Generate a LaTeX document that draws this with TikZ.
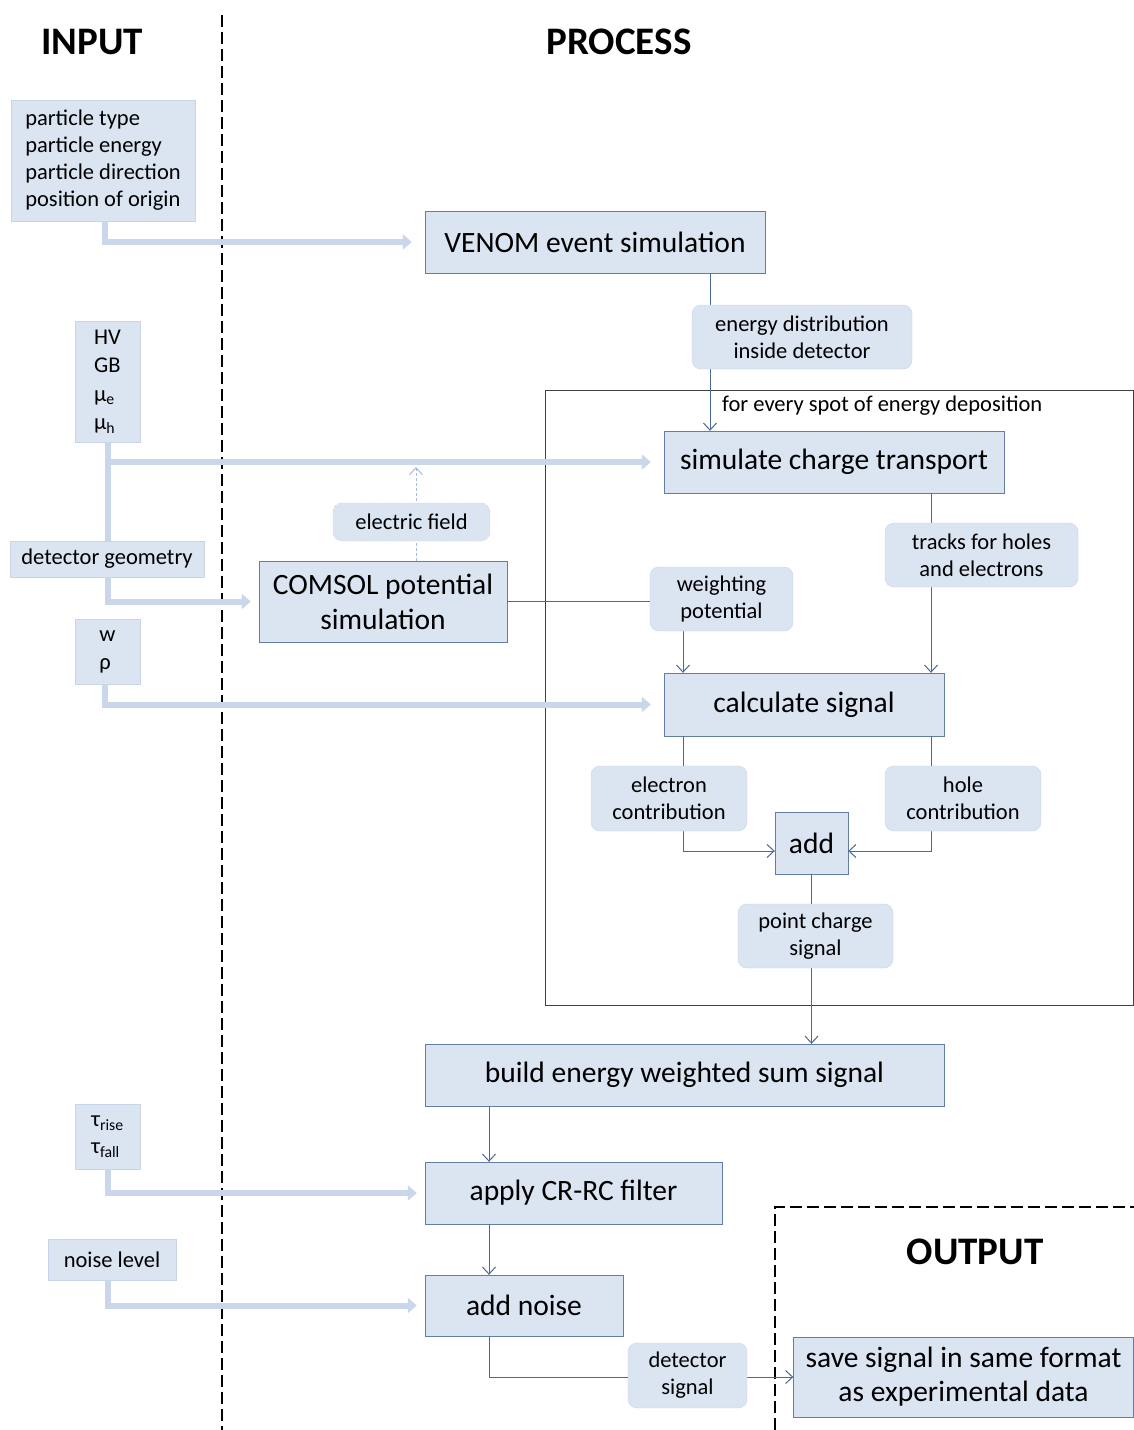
\documentclass[tikz,border=0pt]{standalone}
\usepackage{fontspec}
\setmainfont{Carlito}
\usetikzlibrary{arrows.meta,calc}
\definecolor{boxfill}{RGB}{219,228,241}
\definecolor{pborder}{RGB}{100,125,165}
\definecolor{lborder}{RGB}{200,212,232}
\definecolor{thickc}{RGB}{202,215,235}
\definecolor{connc}{RGB}{75,105,150}
\definecolor{efc}{RGB}{165,188,222}
\tikzset{
  title/.style={font=\fontsize{39}{42}\selectfont\bfseries, inner sep=0pt},
  inbox/.style={draw=lborder, fill=boxfill, align=left, font=\fontsize{22.5}{27}\selectfont, inner sep=0pt},
  pbox/.style={draw=pborder, fill=boxfill, align=center, font=\fontsize{29.5}{35}\selectfont, inner sep=0pt},
  lbl/.style={draw=lborder, fill=boxfill, rounded corners=9pt, align=center, font=\fontsize{22.5}{27}\selectfont, inner sep=0pt},
  loopbox/.style={draw=black!75, line width=0.9pt},
  plain/.style={font=\fontsize{22.5}{27}\selectfont, inner sep=0pt},
  divider/.style={draw=black, line width=1.6pt, dash pattern=on 12pt off 5pt},
  thickarrow/.style={draw=thickc, line width=6pt, line join=miter, -{Triangle[length=9pt,width=15pt]}},
  thickline/.style={draw=thickc, line width=6pt},
  conn/.style={draw=connc, line width=1pt, -{Straight Barb[length=7pt,width=13pt]}},
  connplain/.style={draw=connc, line width=1pt},
  efconn/.style={draw=efc, line width=1pt, dash pattern=on 3pt off 2pt, -{Straight Barb[length=7pt,width=13pt]}}
}
\begin{document}
\begin{tikzpicture}[x=1pt,y=-1pt]
\fill[white] (0,0) rectangle (1134,1430);
\useasboundingbox (0,0) rectangle (1134,1430);

% titles
\node[title] (tin) at (92,42) {INPUT};
\node[title] (tproc) at (619,42) {PROCESS};
\node[title] (tout) at (975,1252) {OUTPUT};

% dividers
\coordinate (d1) at (222,15);
\coordinate (d2) at (222,1430);
\draw[divider] (d1) -- (d2);
\coordinate (o1) at (775,1430);
\coordinate (o3) at (1134,1207);
\draw[divider] (o1) |- (o3);

% loop box
\node[loopbox, minimum width=588pt, minimum height=615pt] (loop) at (839,697.5) {};
\node[plain, anchor=west] (loopl) at (722,406) {for every spot of energy deposition};

% input boxes
\node[inbox, minimum width=184pt, minimum height=121pt] (part) at (103,160.5)
  {particle type\\particle energy\\particle direction\\position of origin};
\node[inbox, minimum width=65pt, minimum height=121pt, font=\fontsize{22.5}{28.5}\selectfont] (hv) at (107.5,381.5)
  {HV\\GB\\μ\textsubscript{e}\\μ\textsubscript{h}};
\node[inbox, minimum width=194pt, minimum height=36pt] (det) at (107,559) {detector geometry};
\node[inbox, minimum width=65pt, minimum height=65pt, font=\fontsize{22.5}{28}\selectfont] (wr) at (107.5,651.5) {w\\ρ};
\node[inbox, minimum width=65pt, minimum height=65pt, font=\fontsize{22.5}{27}\selectfont] (tau) at (107.5,1136.5)
  {τ\textsubscript{rise}\\τ\textsubscript{fall}};
\node[inbox, minimum width=128pt, minimum height=41pt] (noise) at (112,1259.5) {noise level};

% process boxes
\node[pbox, minimum width=340pt, minimum height=62pt] (venom) at (595,242) {VENOM event simulation};
\node[pbox, minimum width=340pt, minimum height=62pt] (sim) at (834,462) {simulate charge transport};
\node[pbox, minimum width=248pt, minimum height=81pt] (comsol) at (383,601.5) {COMSOL potential\\simulation};
\node[pbox, minimum width=280pt, minimum height=63pt] (calc) at (804,704.5) {calculate signal};
\node[pbox, minimum width=73pt, minimum height=62pt] (add) at (811.5,843) {add};
\node[pbox, minimum width=519pt, minimum height=62pt] (build) at (684.5,1075) {build energy weighted sum signal};
\node[pbox, minimum width=297pt, minimum height=62pt] (crrc) at (573.5,1193) {apply CR-RC filter};
\node[pbox, minimum width=198pt, minimum height=61pt] (addn) at (524,1305.5) {add noise};
\node[pbox, minimum width=340pt, minimum height=80pt, font=\fontsize{29.5}{34}\selectfont] (save) at (963.5,1377) {save signal in same format\\as experimental data};

% thick input arrows
\draw[thickarrow] ([xshift=2pt]part.south) |- ([xshift=-13pt]venom.west);
\draw[thickline] (hv.south) -- (hv.south |- det.north);
\draw[thickarrow] (hv.south) |- ([xshift=-13pt]sim.west);
\draw[thickarrow] ([xshift=1pt]det.south) |- ([xshift=-8pt]comsol.west);
\draw[thickarrow] ([xshift=-2.5pt]wr.south) |- ([xshift=-13pt]calc.west);
\draw[thickarrow] (tau.south) |- ([xshift=-8pt]crrc.west);
\draw[thickarrow] ([xshift=-4pt]noise.south) |- ([xshift=-8pt]addn.west);

% connectors
\draw[conn] ([xshift=115pt]venom.south) -- ([xshift=115pt]venom.south |- sim.north);
\draw[conn] ([xshift=97pt]sim.south) -- ([xshift=97pt]sim.south |- calc.north);
\draw[conn] (comsol.east) -| ([xshift=-121pt]calc.north);
\coordinate (eftip) at (416,467);
\draw[efconn] ([xshift=33pt]comsol.north) -- (eftip);
\draw[conn] ([xshift=-121pt]calc.south) |- ([yshift=-8pt]add.west);
\draw[conn] ([xshift=127pt]calc.south) |- ([yshift=-8pt]add.east);
\draw[conn] (add.south) -- (add.south |- build.north);
\draw[conn] ([xshift=-195.5pt]build.south) -- ([xshift=-195.5pt]build.south |- crrc.north);
\draw[conn] ([xshift=-84.5pt]crrc.south) -- ([xshift=-84.5pt]crrc.south |- addn.north);
\draw[conn] ([xshift=-35pt]addn.south) |- (save.west);

% labels on connectors
\node[lbl, minimum width=220pt, minimum height=64pt] (edist) at (802,337) {energy distribution\\inside detector};
\node[lbl, minimum width=157pt, minimum height=38pt, dash pattern=on 3pt off 2pt] (efield) at (411.5,522) {electric field};
\node[lbl, minimum width=143pt, minimum height=64pt] (wpot) at (721.5,599) {weighting\\potential};
\node[lbl, minimum width=193pt, minimum height=64pt] (tracks) at (981.5,555) {tracks for holes\\and electrons};
\node[lbl, minimum width=156pt, minimum height=65pt] (econ) at (669,798.5) {electron\\contribution};
\node[lbl, minimum width=156pt, minimum height=65pt] (hcon) at (963,798.5) {hole\\contribution};
\node[lbl, minimum width=155pt, minimum height=64pt] (pcs) at (815.5,936) {point charge\\signal};
\node[lbl, minimum width=119pt, minimum height=65pt] (dsig) at (687.5,1375.5) {detector\\signal};
\end{tikzpicture}
\end{document}
